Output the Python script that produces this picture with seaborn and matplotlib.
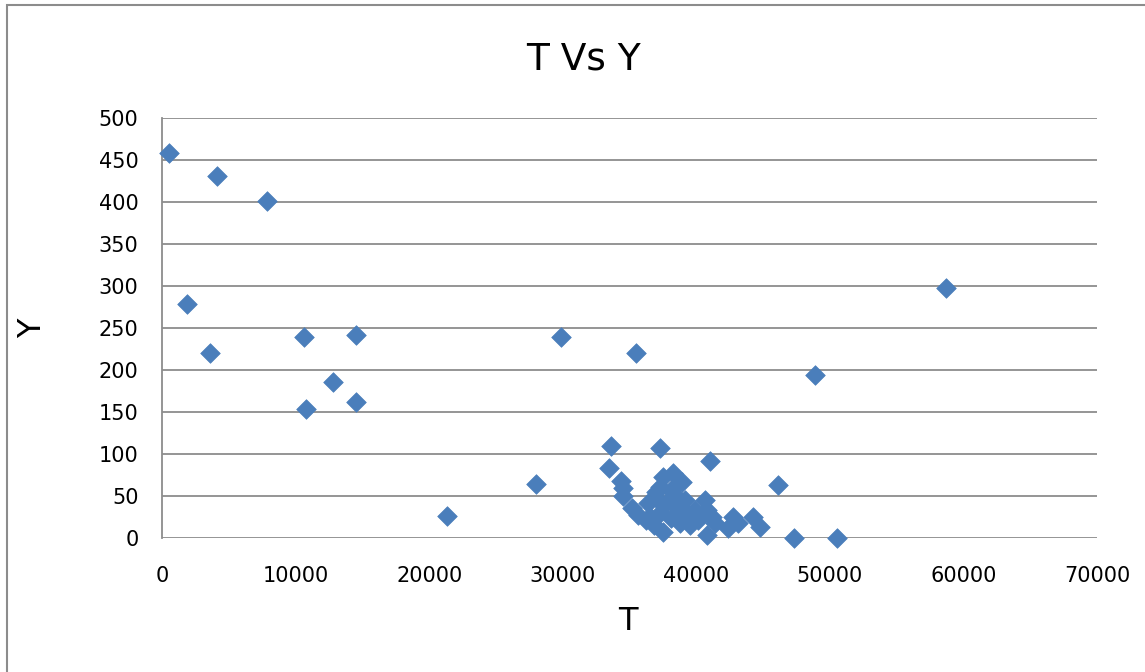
import matplotlib
matplotlib.use("Agg")
import matplotlib.pyplot as plt
import seaborn as sns
import pandas as pd
from matplotlib.patches import Rectangle

T = [520, 4100, 1870, 3590, 7850, 10600, 10770, 12790, 14500, 14500,
     21300, 28000, 29900, 35500, 58700, 48900, 46100, 47300, 50500,
     33650, 33430, 37250, 41060, 34330, 34480, 34480,
     35150, 35600, 36200, 36570, 36350, 37100, 37320, 37320, 37540, 37540,
     37840, 38070, 38070, 38220, 38590, 38810, 38960, 39340, 40160, 40810,
     40640, 40830, 41200, 41430, 42400, 42780, 43150, 44270, 44800,
     36800, 39560, 39940, 36950, 38440, 39190]
Y = [458, 431, 279, 220, 401, 239, 154, 186, 242, 162,
     26, 64, 239, 220, 298, 194, 63, 0, 0,
     109, 83, 107, 92, 68, 60, 50,
     36, 27, 21, 25, 42, 45, 30, 61, 73, 7,
     43, 57, 24, 77, 37, 18, 67, 30, 21, 4,
     45, 33, 25, 18, 12, 25, 18, 25, 13,
     15, 15, 33, 55, 51, 45]

x_ticks = [0, 10000, 20000, 30000, 40000, 50000, 60000, 70000]
y_ticks = [0, 50, 100, 150, 200, 250, 300, 350, 400, 450, 500]

df = pd.DataFrame({"T": T, "Y": Y})

sns.set_style("white")
plt.rcParams['font.family'] = ['DejaVu Sans']

fig = plt.figure(figsize=(11.45, 6.72), dpi=100)
ax = fig.add_axes([162/1145, 1-538/672, (1097-162)/1145, (538-118)/672])

ax.set_xlim(0, 70000)
ax.set_ylim(0, 500)
ax.set_yticks(y_ticks)
ax.set_xticks(x_ticks)
ax.yaxis.grid(True, color="#8c8c8c", linewidth=1.3)
ax.xaxis.grid(False)
ax.set_axisbelow(True)

sns.scatterplot(data=df, x="T", y="Y", marker="D", s=100, color="#4a7ebb",
                edgecolor="#4a7ebb", linewidth=0.5, ax=ax, zorder=3, clip_on=False)

for side in ["top", "right", "bottom"]:
    ax.spines[side].set_visible(False)
ax.spines["left"].set_color("#8c8c8c")
ax.spines["left"].set_linewidth(1.3)

ax.tick_params(axis="both", length=0, labelsize=15, labelcolor="black")
ax.tick_params(axis="y", pad=17)
ax.tick_params(axis="x", pad=20)

ax.set_xlabel("")
ax.set_ylabel("")
fig.text(628/1145, 1-622/672, "T", fontsize=23, ha="center", va="center", color="black")
fig.text(33/1145, 1-328/672, "Y", fontsize=23, ha="center", va="center", rotation=90, color="black")
fig.text(583/1145, 1-60/672, "T Vs Y", fontsize=27, ha="center", va="center", color="black")

fig.patches.append(Rectangle((7/1145, -0.1), 1.2, 1-5/672+0.1, transform=fig.transFigure,
                             fill=False, edgecolor="#8c8c8c", linewidth=1.5))

fig.savefig("out.png", dpi=100)
